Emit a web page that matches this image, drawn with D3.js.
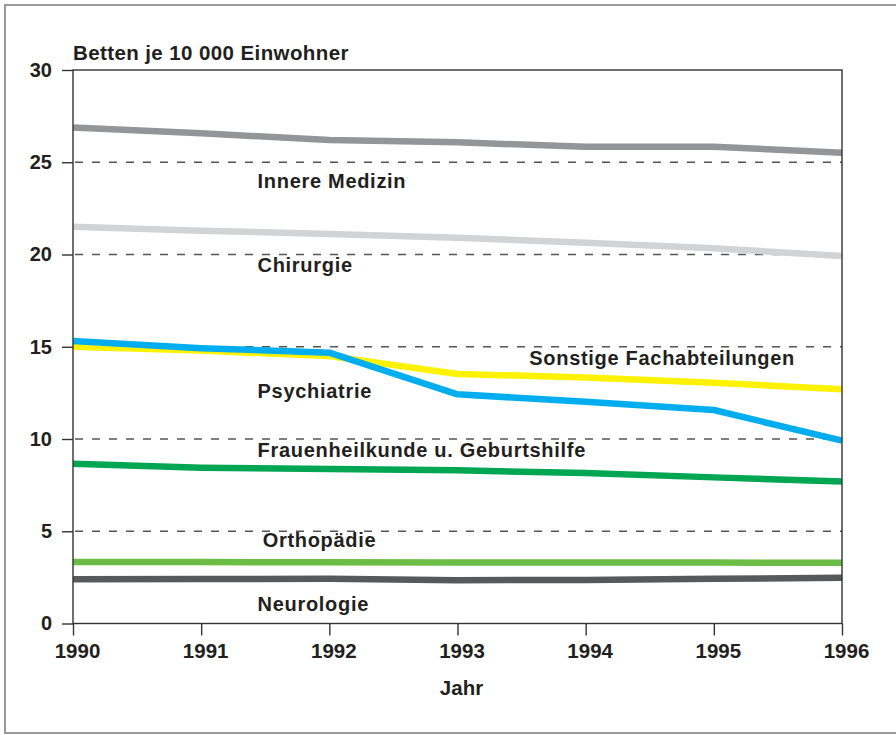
<!DOCTYPE html>
<html>
<head>
<meta charset="utf-8">
<script src="https://cdn.jsdelivr.net/npm/d3@7"></script>
<style>
  html, body { margin: 0; padding: 0; background: #fff; }
  svg { display: block; font-family: "Liberation Sans", Arial, sans-serif; font-weight: bold; }
</style>
</head>
<body>
<svg id="chart" width="896" height="735"></svg>
<script>
const years = [1990, 1991, 1992, 1993, 1994, 1995, 1996];
const yTicks = [0, 5, 10, 15, 20, 25, 30];

const innereMedizin = [26.88, 26.57, 26.2, 26.08, 25.84, 25.84, 25.52];
const chirurgie = [21.51, 21.29, 21.11, 20.91, 20.64, 20.34, 19.92];
const sonstige = [15.0, 14.79, 14.5, 13.52, 13.34, 13.05, 12.7];
const psychiatrie = [15.31, 14.92, 14.68, 12.42, 12.02, 11.57, 9.91];
const frauenheilkunde = [8.66, 8.44, 8.37, 8.3, 8.16, 7.92, 7.69];
const orthopaedie = [3.34, 3.33, 3.32, 3.31, 3.31, 3.3, 3.29];
const neurologie = [2.4, 2.41, 2.42, 2.35, 2.36, 2.42, 2.48];

const seriesNames = ['Innere Medizin', 'Chirurgie', 'Sonstige Fachabteilungen', 'Psychiatrie',
  'Frauenheilkunde u. Geburtshilfe', 'Orthopädie', 'Neurologie'];
const seriesValues = [innereMedizin, chirurgie, sonstige, psychiatrie, frauenheilkunde, orthopaedie, neurologie];
const seriesColors = ['#939598', '#d1d3d4', '#fff200', '#00aeef', '#00a651', '#6cbd45', '#58595b'];

// label anchors in data units (year, value at text baseline)
const labelYears = [1991.44, 1991.44, 1993.56, 1991.44, 1991.44, 1991.48, 1991.44];
const labelValues = [23.6, 19.07, 14.01, 12.24, 9.04, 4.16, 0.69];

const svg = d3.select('#chart');
const plotLeft = 73, plotRight = 842, plotTop = 70, plotBottom = 623.5;
const ink = '#231f20';

// outer frame
svg.append('rect')
  .attr('x', 5).attr('y', 5).attr('width', 900).attr('height', 728)
  .attr('fill', 'none').attr('stroke', '#9a9a9a').attr('stroke-width', 2);

const x = d3.scaleLinear().domain([1990, 1996]).range([plotLeft, plotRight]);
const y = d3.scaleLinear().domain([0, 30]).range([plotBottom, plotTop]);

// dashed gridlines
svg.append('g')
  .selectAll('line')
  .data(yTicks.filter(d => d > 0 && d < 30))
  .join('line')
  .attr('x1', plotLeft).attr('x2', plotRight)
  .attr('y1', d => y(d)).attr('y2', d => y(d))
  .attr('stroke', '#555').attr('stroke-width', 1.5)
  .attr('stroke-dasharray', '8 9').attr('stroke-dashoffset', -2);

// lines
const line = d3.line()
  .x((d, i) => x(years[i]))
  .y(d => y(d));

svg.append('g')
  .selectAll('path')
  .data(seriesValues)
  .join('path')
  .attr('d', d => line(d))
  .attr('fill', 'none')
  .attr('stroke', (d, i) => seriesColors[i])
  .attr('stroke-width', 6.5)
  .attr('stroke-linejoin', 'round');

// frame of the plot
svg.append('rect')
  .attr('x', plotLeft).attr('y', plotTop)
  .attr('width', plotRight - plotLeft).attr('height', plotBottom - plotTop)
  .attr('fill', 'none').attr('stroke', '#333').attr('stroke-width', 1.4);

// y axis
const yAxis = svg.append('g')
  .attr('transform', `translate(${plotLeft},0)`)
  .call(d3.axisLeft(y).tickValues(yTicks).tickSize(11).tickPadding(10));
yAxis.select('.domain').remove();
yAxis.selectAll('line').attr('stroke', '#333').attr('stroke-width', 1.4);
yAxis.selectAll('text')
  .attr('fill', ink).attr('font-size', 20).attr('font-weight', 'bold')
  .attr('font-family', '"Liberation Sans", Arial, sans-serif');

// x axis
const xAxis = svg.append('g')
  .attr('transform', `translate(0,${plotBottom})`)
  .call(d3.axisBottom(x).tickValues(years).tickFormat(d3.format('d')).tickSize(12).tickPadding(8));
xAxis.select('.domain').remove();
xAxis.selectAll('line').attr('stroke', '#333').attr('stroke-width', 1.4);
xAxis.selectAll('text')
  .attr('fill', ink).attr('font-size', 20.5).attr('font-weight', 'bold')
  .attr('font-family', '"Liberation Sans", Arial, sans-serif')
  .attr('dx', 4);

// titles
svg.append('text')
  .attr('x', plotLeft).attr('y', 60)
  .attr('fill', ink).attr('font-size', 20.5).attr('letter-spacing', 0.4)
  .text('Betten je 10 000 Einwohner');

svg.append('text')
  .attr('x', x(1993) + 4).attr('y', 695)
  .attr('text-anchor', 'middle')
  .attr('fill', ink).attr('font-size', 20.5)
  .text('Jahr');

// series labels
svg.append('g')
  .selectAll('text')
  .data(seriesNames)
  .join('text')
  .attr('x', (d, i) => x(labelYears[i]))
  .attr('y', (d, i) => y(labelValues[i]))
  .attr('fill', ink).attr('font-size', 20).attr('letter-spacing', 0.7)
  .text(d => d);
</script>
</body>
</html>
